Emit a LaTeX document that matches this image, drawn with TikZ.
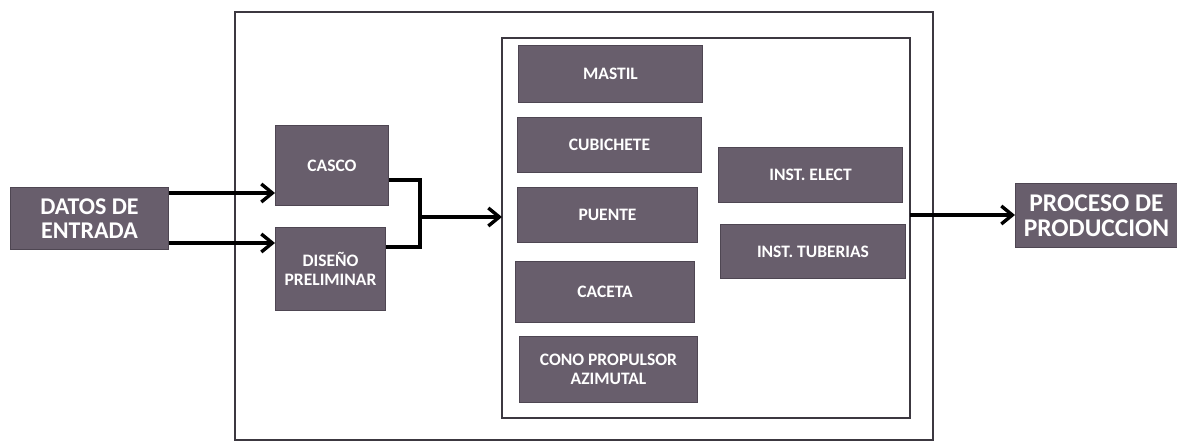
\documentclass[tikz,border=0pt]{standalone}
\usepackage{fontspec}
\setmainfont{Carlito}
\usetikzlibrary{arrows.meta}
\definecolor{boxfill}{RGB}{104,94,108}
\definecolor{boxedge}{RGB}{78,70,82}
\definecolor{frameline}{RGB}{60,56,64}
\tikzset{
  blk/.style={draw=boxedge, line width=1pt, fill=boxfill, text=white, font=\bfseries\fontsize{17.5}{18.5}\selectfont, align=center, inner sep=0pt, anchor=north west},
  bigblk/.style={blk, font=\bfseries\fontsize{24}{24}\selectfont},
  frame/.style={draw=frameline, line width=1.4pt},
  conn/.style={line width=3.4pt, -{Straight Barb[length=11pt,width=18pt,line width=3.4pt]}},
  wire/.style={line width=3.4pt}
}
\begin{document}
\begin{tikzpicture}[x=1pt,y=-1pt]
\useasboundingbox (0,0) rectangle (1177,443);
% frames
\draw[frame] (235,12) rectangle (933,440);
\draw[frame] (502,38) rectangle (910,418);
% left blocks
\node[bigblk, minimum width=158pt, minimum height=62pt] (datos) at (10,187) {DATOS DE\\ENTRADA};
\node[blk, minimum width=113pt, minimum height=80pt] (casco) at (275,125) {CASCO};
\node[blk, minimum width=110pt, minimum height=83pt] (diseno) at (275,227) {DISEÑO\\PRELIMINAR};
% inner left column
\node[blk, minimum width=184pt, minimum height=57pt] (mastil) at (518,45) {MASTIL};
\node[blk, minimum width=184pt, minimum height=55pt] (cubi) at (517,117) {CUBICHETE};
\node[blk, minimum width=180pt, minimum height=55pt] (puente) at (517,187) {PUENTE};
\node[blk, minimum width=179pt, minimum height=61pt] (caceta) at (515,261) {CACETA};
\node[blk, minimum width=178pt, minimum height=66pt] (cono) at (519,336) {CONO PROPULSOR\\AZIMUTAL};
% inner right column
\node[blk, minimum width=184pt, minimum height=55pt] (elect) at (718,147) {INST. ELECT};
\node[blk, minimum width=185pt, minimum height=54pt] (tub) at (720,224) {INST. TUBERIAS};
% output
\node[bigblk, minimum width=162pt, minimum height=64pt, font=\bfseries\fontsize{25.5}{25}\selectfont] (proceso) at (1015,183) {PROCESO DE\\PRODUCCION};
% helper coordinates
\coordinate (inL) at (502,217);
\coordinate (inR) at (910,215);
\coordinate (join) at (420,217);
% connectors
\draw[conn] (datos.east |- 0,193) -- (casco.west |- 0,193);
\draw[conn] (datos.east |- 0,243) -- (diseno.west |- 0,243);
\draw[wire] (casco.east |- 0,180) -| (420,247) -- (diseno.east |- 0,247);
\draw[conn] (join) -- (inL);
\draw[conn] (inR) -- (proceso.west |- inR);
\end{tikzpicture}
\end{document}
